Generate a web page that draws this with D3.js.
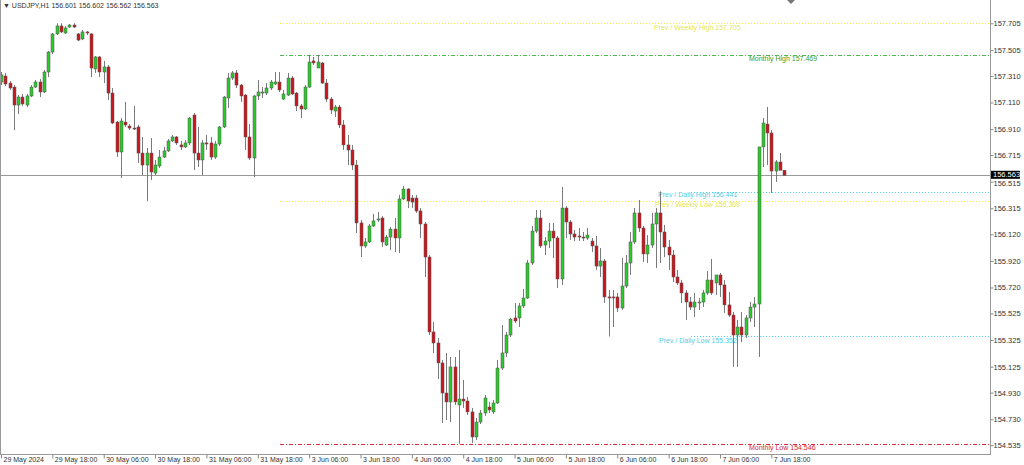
<!DOCTYPE html>
<html><head><meta charset="utf-8">
<script src="https://cdn.jsdelivr.net/npm/d3@7"></script>
<style>
html,body{margin:0;padding:0;background:#fff;}
svg{display:block;font-family:"Liberation Sans",Arial,sans-serif;}
</style></head><body>
<svg id="c" width="1024" height="465"></svg>
<script>
// ---- data (USDJPY H1, from 29 May 2024 06:00) ----
const opens = [157.264,157.309,157.256,157.226,157.091,157.151,157.091,157.159,157.226,157.264,
157.189,157.339,157.489,157.625,157.685,157.632,157.677,157.692,157.625,157.587,
157.640,157.625,157.362,157.452,157.339,157.377,157.181,156.963,156.738,156.963,
156.933,156.918,156.926,156.730,156.640,156.730,156.580,156.633,156.700,156.746,
156.821,156.851,156.791,156.776,156.806,157.016,156.730,156.678,156.806,156.806,
156.700,156.798,156.926,157.144,157.294,157.332,157.241,157.166,156.851,156.693,
157.159,157.181,157.181,157.219,157.249,157.264,157.136,157.166,157.294,157.181,
157.084,157.061,157.226,157.422,157.369,157.407,157.256,157.136,157.046,157.076,
156.941,156.791,156.753,156.640,156.205,156.032,156.062,156.182,156.227,156.242,
156.039,156.099,156.159,156.092,156.385,156.460,156.392,156.392,156.295,156.197,
155.949,155.386,155.303,155.153,154.927,154.860,155.123,154.837,154.882,154.867,
154.785,154.597,154.709,154.777,154.822,154.785,154.852,155.115,155.228,155.363,
155.491,155.491,155.581,155.641,155.904,156.144,156.242,156.039,156.069,156.144,
156.092,155.784,156.317,156.212,156.122,156.107,156.099,156.092,156.069,156.032,
155.881,155.919,155.649,155.649,155.649,155.566,155.731,155.904,156.062,156.280,
156.167,155.972,156.039,156.197,156.280,156.137,156.024,155.964,155.799,155.754,
155.679,155.611,155.573,155.604,155.611,155.679,155.776,155.754,155.814,155.739,
155.589,155.513,155.363,155.423,155.363,155.491,155.573,155.596,156.776,156.948,
156.881,156.595,156.663,156.601];
const highs = [157.339,157.332,157.271,157.241,157.166,157.174,157.174,157.241,157.279,157.286,
157.354,157.497,157.632,157.705,157.705,157.685,157.700,157.705,157.632,157.655,
157.647,157.632,157.459,157.459,157.422,157.392,157.219,156.971,156.993,157.114,
156.948,157.084,156.941,156.851,156.768,156.843,156.678,156.753,156.776,156.836,
156.866,156.858,156.821,156.828,157.001,157.031,156.926,156.828,156.866,156.851,
156.821,156.933,157.159,157.332,157.347,157.354,157.249,157.174,156.948,157.166,
157.279,157.226,157.256,157.279,157.339,157.339,157.204,157.332,157.309,157.189,
157.099,157.241,157.469,157.452,157.467,157.414,157.286,157.151,157.091,157.091,
156.978,156.866,156.791,156.678,156.227,156.092,156.197,156.272,156.287,156.257,
156.114,156.175,156.242,156.415,156.483,156.467,156.415,156.415,156.317,156.212,
155.964,155.461,155.341,155.175,155.228,155.198,155.198,155.250,155.025,154.897,
154.815,154.740,154.800,154.912,154.860,154.875,155.175,155.438,155.386,155.491,
155.604,155.604,155.709,155.927,156.182,156.302,156.302,156.099,156.205,156.205,
156.107,156.475,156.332,156.227,156.152,156.167,156.137,156.167,156.092,156.107,
156.017,155.934,155.701,155.701,155.679,155.942,155.964,156.137,156.317,156.377,
156.182,156.114,156.280,156.317,156.441,156.190,156.077,156.002,155.851,155.776,
155.701,155.649,155.679,155.641,155.701,155.844,155.934,155.814,155.829,155.776,
155.686,155.536,155.476,155.536,155.513,155.611,155.649,156.776,156.993,157.076,
156.903,156.678,156.730,156.602];
const lows = [157.241,157.234,157.204,156.903,157.024,157.084,157.076,157.151,157.219,157.151,
157.181,157.301,157.474,157.617,157.632,157.625,157.670,157.670,157.572,157.579,
157.617,157.301,157.332,157.301,157.256,157.129,156.948,156.700,156.543,156.926,
156.903,156.903,156.655,156.565,156.369,156.528,156.565,156.618,156.693,156.738,
156.813,156.791,156.753,156.768,156.791,156.603,156.625,156.565,156.753,156.678,
156.685,156.783,156.918,157.069,157.279,157.219,157.114,156.753,156.678,156.550,
157.129,157.144,157.166,157.204,157.241,157.189,157.129,157.159,157.166,157.046,
156.993,157.054,157.219,157.392,157.369,157.249,157.114,157.024,157.001,156.918,
156.753,156.640,156.603,156.129,155.949,156.017,156.054,156.175,156.212,156.024,
156.032,156.002,155.987,155.979,156.377,156.317,156.317,156.280,156.092,155.799,
155.363,155.228,155.032,154.702,154.724,154.709,154.837,154.546,154.815,154.762,
154.552,154.574,154.694,154.755,154.777,154.770,154.845,155.100,155.198,155.348,
155.453,155.423,155.566,155.634,155.889,156.129,156.017,155.964,156.017,155.942,
155.716,155.739,156.092,156.077,156.069,156.069,156.069,156.077,155.987,155.851,
155.799,155.604,155.352,155.423,155.536,155.551,155.716,155.814,156.047,156.137,
155.912,155.904,156.017,155.866,155.904,155.949,155.851,155.761,155.739,155.604,
155.476,155.551,155.498,155.551,155.573,155.664,155.664,155.664,155.649,155.528,
155.498,155.123,155.123,155.310,155.341,155.461,155.423,155.198,156.625,156.640,
156.430,156.513,156.603,156.562];
const closes = [157.317,157.249,157.219,157.091,157.151,157.099,157.159,157.226,157.264,157.189,
157.339,157.489,157.625,157.685,157.640,157.670,157.692,157.677,157.579,157.640,
157.632,157.369,157.452,157.339,157.377,157.181,156.956,156.738,156.971,156.941,
156.918,156.911,156.730,156.640,156.730,156.588,156.640,156.700,156.746,156.821,
156.851,156.806,156.776,156.806,156.993,156.730,156.678,156.806,156.798,156.700,
156.798,156.926,157.151,157.294,157.332,157.241,157.159,156.851,156.693,157.159,
157.189,157.189,157.219,157.264,157.264,157.204,157.174,157.294,157.174,157.084,
157.061,157.226,157.414,157.407,157.414,157.256,157.136,157.054,157.076,156.941,
156.791,156.753,156.640,156.205,156.032,156.062,156.182,156.220,156.235,156.062,
156.099,156.159,156.092,156.385,156.460,156.370,156.362,156.295,156.197,155.949,
155.386,155.303,155.153,154.927,154.860,155.123,154.860,154.882,154.867,154.785,
154.597,154.709,154.777,154.890,154.800,154.852,155.115,155.228,155.363,155.483,
155.468,155.581,155.641,155.904,156.144,156.242,156.032,156.069,156.144,156.092,
155.784,156.317,156.212,156.122,156.099,156.099,156.092,156.114,156.032,155.881,
155.919,155.649,155.641,155.641,155.566,155.731,155.904,156.062,156.280,156.167,
155.972,156.039,156.197,156.280,156.137,156.024,155.964,155.799,155.754,155.679,
155.611,155.573,155.611,155.611,155.679,155.776,155.679,155.814,155.739,155.589,
155.513,155.363,155.423,155.363,155.491,155.573,155.596,156.776,156.956,156.881,
156.595,156.663,156.601,156.563];

const priceTicks = [157.705,157.505,157.310,157.110,156.910,156.715,156.515,156.315,156.120,
155.920,155.720,155.525,155.325,155.125,154.930,154.730,154.535];
const timeTickIdx = [0,12,24,36,48,60,72,84,96,108,120,132,144,156,168,180];
const timeTickLabels = ["29 May 2024","29 May 18:00","30 May 06:00","30 May 18:00","31 May 06:00",
"31 May 18:00","3 Jun 06:00","3 Jun 18:00","4 Jun 06:00","4 Jun 18:00","5 Jun 06:00",
"5 Jun 18:00","6 Jun 06:00","6 Jun 18:00","7 Jun 06:00","7 Jun 18:00"];
const levelNames = ["Prev / Weekly High","Monthly High","Prev / Daily High","Prev / Weekly Low","Prev / Daily Low","Monthly Low"];
const levelValues = [157.705,157.469,156.441,156.369,155.352,154.546];
const levelStart = [66,66,162,66,162,66];
const symbol = "USDJPY,H1";
const lastPrice = 156.563;

// ---- layout / styles ----
const plotR = 990, plotB = 454;
const svg = d3.select("#c");
const x = d3.scaleLinear().domain([0, 183]).range([1, 784.2]);
const y = d3.scaleLinear().domain([154.535, 157.705]).range([445.2, 23.3]);
const levelStyle = [
  {c:"#eded3c", tc:"#e6e650", dash:"1,2", lx:654, ly:27.5},
  {c:"#4cb84c", tc:"#3d9a27", dash:"4,2,1,2", lx:749, ly:59},
  {c:"#4fd6ea", tc:"#50cfe4", dash:"1,2", lx:658, ly:195},
  {c:"#eded3c", tc:"#e6e650", dash:"1,2", lx:655, ly:205},
  {c:"#4fd6ea", tc:"#50cfe4", dash:"1,2", lx:659, ly:341},
  {c:"#dc2b3c", tc:"#d8283a", dash:"4,2,1,2", lx:749, ly:448}
];

// levels
const lv = svg.append("g");
levelValues.forEach((v,k)=>{
  const st = levelStyle[k];
  lv.append("line").attr("x1", Math.round(x(levelStart[k]) - 3)).attr("x2", plotR)
    .attr("y1", Math.round(y(v))+0.5).attr("y2", Math.round(y(v))+0.5)
    .attr("stroke", st.c).attr("stroke-width",1).attr("stroke-dasharray", st.dash)
    .attr("shape-rendering","crispEdges");
});

// bid line
svg.append("line").attr("x1",0).attr("x2",plotR)
  .attr("y1",Math.round(y(lastPrice))+0.5).attr("y2",Math.round(y(lastPrice))+0.5)
  .attr("stroke","#9a9a9a").attr("stroke-width",1);

// candles
const idx = d3.range(opens.length);
const cg = svg.append("g");
cg.selectAll("line.w").data(idx).join("line").attr("class","w")
  .attr("x1",i=>Math.round(x(i))+0.5).attr("x2",i=>Math.round(x(i))+0.5)
  .attr("y1",i=>y(highs[i])).attr("y2",i=>y(lows[i]))
  .attr("stroke","#7a7a7a").attr("stroke-width",1);
cg.selectAll("rect.b").data(idx).join("rect").attr("class","b")
  .attr("x",i=>Math.round(x(i))-1)
  .attr("width",3)
  .attr("y",i=>y(Math.max(opens[i],closes[i])))
  .attr("height",i=>Math.max(1, Math.abs(y(opens[i])-y(closes[i]))))
  .attr("fill",i=>closes[i]>=opens[i] ? "#2cc92c" : "#c8181f")
  .attr("stroke","#555").attr("stroke-width",0.5);

// level labels
levelValues.forEach((v,k)=>{
  const st = levelStyle[k];
  lv.append("text").attr("x", st.lx).attr("y", st.ly).attr("dy","0.35em")
    .attr("font-size","7px").attr("fill", st.tc)
    .text(levelNames[k] + " " + v.toFixed(3));
});

// frame
svg.append("line").attr("x1",0.5).attr("x2",0.5).attr("y1",0).attr("y2",plotB).attr("stroke","#999");
svg.append("line").attr("x1",plotR+0.5).attr("x2",plotR+0.5).attr("y1",0).attr("y2",plotB+0.5).attr("stroke","#999");
svg.append("line").attr("x1",0).attr("x2",plotR+1).attr("y1",plotB+0.5).attr("y2",plotB+0.5).attr("stroke","#999");

// right axis
const ay = svg.append("g").attr("transform",`translate(${plotR+0.5},0)`)
  .call(d3.axisRight(y).tickValues(priceTicks).tickFormat(d3.format(".3f")).tickSize(3).tickSizeOuter(0));
ay.select(".domain").remove();
ay.selectAll("line").attr("stroke","#888");
ay.selectAll("text").attr("font-size","7.5px").attr("fill","#333").attr("x",3)
  .attr("font-family","Liberation Sans, Arial, sans-serif")
  .attr("dy", d => d === 156.515 ? "0.55em" : "0.32em");

// bottom axis
const ax = svg.append("g").attr("transform",`translate(0,${plotB+0.5})`)
  .call(d3.axisBottom(x).tickValues(timeTickIdx).tickFormat((d,k)=>timeTickLabels[k]).tickSize(4).tickSizeOuter(0));
ax.select(".domain").remove();
ax.selectAll("line").attr("stroke","#888");
ax.selectAll("text").attr("font-size","7px").attr("fill","#333").attr("text-anchor","start")
  .attr("x",2).attr("y",3).attr("font-family","Liberation Sans, Arial, sans-serif");

// price box
const py = y(lastPrice);
svg.append("rect").attr("x",plotR+1).attr("y",py-4.5).attr("width",29).attr("height",8).attr("fill","#000");
svg.append("text").attr("x",plotR+3).attr("y",py-0.5).attr("dy","0.35em").attr("font-size","7.5px")
  .attr("fill","#fff").text(lastPrice.toFixed(3));

// title
svg.append("text").attr("x",3).attr("y",6).attr("dy","0.35em").attr("font-size","7px").attr("fill","#333")
  .text("\u25BC " + symbol + "  " + [opens[183],highs[183],lows[183],closes[183]].map(d=>d.toFixed(3)).join(" "));

// shift marker
svg.append("path").attr("d","M787,0 L795,0 L791,4 Z").attr("fill","#777");
</script>
</body></html>
